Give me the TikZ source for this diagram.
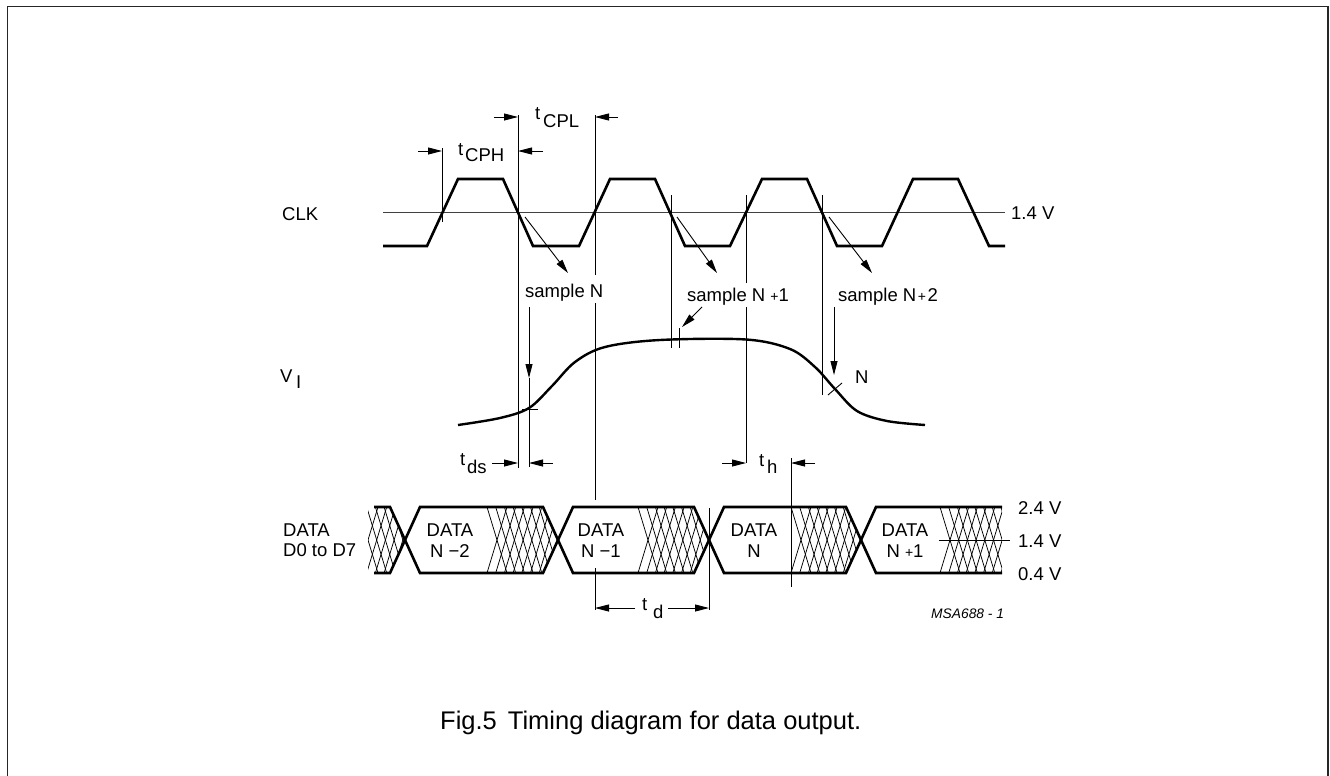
\documentclass[tikz,border=0pt]{standalone}
\usepackage{fontspec}
\setmainfont{Liberation Sans}
\usetikzlibrary{arrows.meta}
\tikzset{
  wave/.style={line width=2.6pt},
  fine/.style={line width=0.9pt},
  dimarrow/.style={line width=0.9pt,-{Triangle[length=14pt,width=7pt]}},
  lbl/.style={inner sep=0pt,font=\fontsize{18.5}{21}\selectfont},
  hl/.style={line width=0.75pt}
}
\newcommand\hatchrun[1]{%
  \foreach \i in {0,...,10}{%
    \pgfmathsetmacro\hx{#1+8.7*\i}%
    \draw[hl] (\hx,507) -- (\hx+20,573);
    \draw[hl] (\hx,573) -- (\hx+20,507);
  }}
\begin{document}
\begin{tikzpicture}[x=1pt,y=-1pt]
\useasboundingbox (0,0) rectangle (1330,776);
\draw[line width=1.4pt,black!85] (7.5,777) -- (7.5,6.5) -- (1328,6.5) -- (1328,777);

% ---------- CLK ----------
\coordinate (refL) at (383,212.5);
\coordinate (refR) at (1005,212.5);
\draw[fine,black!75] (refL) -- (refR);
\draw[wave] (383,246) -- (427,246) -- (458,179) -- (503,179) -- (533,246) -- (579,246)
  -- (610,179) -- (655,179) -- (685,246) -- (730,246) -- (762,179) -- (807,179)
  -- (837,246) -- (882,246) -- (913,179) -- (958,179) -- (989,246) -- (1005,246);
\node[lbl,anchor=base west] (clk) at (282,220.5) {CLK};
\node[lbl,anchor=base west] (v14clk) at (1011,219) {1.4 V};

% vertical reference lines
\coordinate (a1) at (442,148); \coordinate (a2) at (442,222);
\draw[fine] (a1) -- (a2);
\coordinate (b1) at (518,115); \coordinate (b2) at (518,468);
\draw[fine] (b1) -- (b2);
\coordinate (c1) at (595,115); \coordinate (c2) at (595,275);
\coordinate (c3) at (595,303); \coordinate (c4) at (595,500);
\coordinate (c5) at (595,568); \coordinate (c6) at (595,610);
\draw[fine] (c1) -- (c2) (c3) -- (c4) (c5) -- (c6);
\coordinate (d1) at (671,195); \coordinate (d2) at (671,348);
\draw[fine] (d1) -- (d2);
\coordinate (e1) at (746,195); \coordinate (e2) at (746,283);
\coordinate (e3) at (746,307); \coordinate (e4) at (746,463);
\draw[fine] (e1) -- (e2) (e3) -- (e4);
\coordinate (f1) at (822,195); \coordinate (f2) at (822,395);
\draw[fine] (f1) -- (f2);

% t_CPH
\coordinate (ph1) at (418,151); \coordinate (ph2) at (442,151);
\coordinate (ph3) at (543,151); \coordinate (ph4) at (518,151);
\draw[dimarrow] (ph1) -- (ph2);
\draw[dimarrow] (ph3) -- (ph4);
\node[lbl,anchor=base west] (tcph) at (458,155) {t};
\node[lbl,anchor=base west] (cph) at (465,161) {CPH};
% t_CPL
\coordinate (pl1) at (494,117); \coordinate (pl2) at (518,117);
\coordinate (pl3) at (618,117); \coordinate (pl4) at (595,117);
\draw[dimarrow] (pl1) -- (pl2);
\draw[dimarrow] (pl3) -- (pl4);
\node[lbl,anchor=base west] (tcpl) at (535,119) {t};
\node[lbl,anchor=base west] (cpl) at (543,127) {CPL};

% sample arrows
\coordinate (s1a) at (525,217); \coordinate (s1b) at (568,273);
\coordinate (s2a) at (677,217); \coordinate (s2b) at (717,273);
\coordinate (s3a) at (829,217); \coordinate (s3b) at (872,273);
\draw[dimarrow] (s1a) -- (s1b);
\draw[dimarrow] (s2a) -- (s2b);
\draw[dimarrow] (s3a) -- (s3b);
\node[lbl,anchor=base west] (sN) at (525,297) {sample N};
\node[lbl,anchor=base west] (sN1) at (687,301) {sample N {\fontsize{14}{14}\selectfont+}1};
\node[lbl,anchor=base west] (sN2) at (838,301) {sample N\kern1.5pt{\fontsize{14}{14}\selectfont+}\kern1.5pt2};

% ---------- V_I ----------
\node[lbl,anchor=base west] (vi) at (280,382) {V};
\node[lbl,anchor=base west] (vis) at (296,388) {I};
\draw[wave,line width=2.4pt] plot[smooth,tension=0.55] coordinates {
  (458,425) (500,418) (529,408) (552,386) (575,362) (605,347) (660,340)
  (746,339.5) (790,349) (815,367) (835,389) (857,411) (887,421) (925,425)};

\coordinate (g1) at (529,307); \coordinate (g2) at (529,378); \coordinate (g3) at (529,467);
\draw[dimarrow] (g1) -- (g2);
\draw[fine] (g2) -- (g3);
\draw[fine] (522,409) -- (538,409);
\coordinate (h1) at (702,307); \coordinate (h2) at (682,327);
\draw[dimarrow] (h1) -- (h2);
\draw[fine] (679,328) -- (679,348);
\coordinate (k1) at (834,307); \coordinate (k2) at (834,375);
\draw[dimarrow] (k1) -- (k2);
\draw[fine] (828,395) -- (842,383);
\node[lbl,anchor=base west] (nlab) at (855,383) {N};

% t_ds
\coordinate (ds1) at (492,463); \coordinate (ds2) at (518,463);
\coordinate (ds3) at (553,463); \coordinate (ds4) at (529,463);
\draw[dimarrow] (ds1) -- (ds2);
\draw[dimarrow] (ds3) -- (ds4);
\node[lbl,anchor=base west] (tds) at (460,465) {t};
\node[lbl,anchor=base west] (dss) at (467,473) {ds};
% t_h
\coordinate (th1) at (722,463); \coordinate (th2) at (746,463);
\coordinate (th3) at (815,463); \coordinate (th4) at (791,463);
\draw[dimarrow] (th1) -- (th2);
\draw[dimarrow] (th3) -- (th4);
\node[lbl,anchor=base west] (tth) at (759,466) {t};
\node[lbl,anchor=base west] (ths) at (767,473) {h};
\coordinate (m1) at (791,458); \coordinate (m2) at (791,587);
\draw[fine] (m1) -- (m2);

% ---------- DATA bus ----------
\node[lbl,anchor=base west] (dl1) at (283,536) {DATA};
\node[lbl,anchor=base west] (dl2) at (283,556) {D0 to D7};

\begin{scope}
  \clip (368,507) -- (390,507) -- (405,540) -- (390,573) -- (368,573) -- cycle;
  \hatchrun{358}
\end{scope}
\begin{scope}
  \clip (405,540) -- (420,507) -- (543,507) -- (558,540) -- (543,573) -- (420,573) -- cycle;
  \hatchrun{487}
\end{scope}
\begin{scope}
  \clip (558,540) -- (573,507) -- (694,507) -- (709,540) -- (694,573) -- (573,573) -- cycle;
  \hatchrun{638}
\end{scope}
\begin{scope}
  \clip (709,540) -- (724,507) -- (846,507) -- (861,540) -- (846,573) -- (724,573) -- cycle;
  \hatchrun{791}
\end{scope}
\begin{scope}
  \clip (861,540) -- (876,507) -- (1002,507) -- (1002,573) -- (876,573) -- cycle;
  \hatchrun{940}
\end{scope}

\draw[wave] (374,507) -- (390,507) -- (420,573) -- (543,573) -- (573,507) -- (694,507)
  -- (724,573) -- (846,573) -- (876,507) -- (1002,507);
\draw[wave] (374,573) -- (390,573) -- (420,507) -- (543,507) -- (573,573) -- (694,573)
  -- (724,507) -- (846,507) -- (876,573) -- (1002,573);

\node[lbl,align=center] (dN2) at (450,541) {DATA\\N −2};
\node[lbl,align=center] (dN1) at (601,541) {DATA\\N −1};
\node[lbl,align=center] (dN) at (754,541) {DATA\\N};
\node[lbl,align=center] (dN3) at (905,541) {DATA\\N {\fontsize{14}{14}\selectfont+}1};

\coordinate (t14a) at (939,540); \coordinate (t14b) at (1010,540);
\draw[fine] (t14a) -- (t14b);
\node[lbl,anchor=base west] (v24) at (1018,514) {2.4 V};
\node[lbl,anchor=base west] (v14) at (1018,547) {1.4 V};
\node[lbl,anchor=base west] (v04) at (1018,580) {0.4 V};

% t_d
\coordinate (n1) at (709,508); \coordinate (n2) at (709,610);
\draw[fine] (n1) -- (n2);
\coordinate (td1) at (635,608); \coordinate (td2) at (595,608);
\coordinate (td3) at (668,608); \coordinate (td4) at (709,608);
\draw[dimarrow] (td1) -- (td2);
\draw[dimarrow] (td3) -- (td4);
\node[lbl,anchor=base west] (ttd) at (642,610) {t};
\node[lbl,anchor=base west] (tds2) at (653,618) {d};

\node[anchor=base west,inner sep=0pt,font=\fontsize{13.8}{16}\selectfont\itshape] (msa) at (931,618) {MSA688 - 1};

\node[anchor=base west,inner sep=0pt,font=\fontsize{25.5}{30}\selectfont] (cap) at (440,729) {Fig.5\hspace{11pt}Timing diagram for data output.};
\end{tikzpicture}
\end{document}
